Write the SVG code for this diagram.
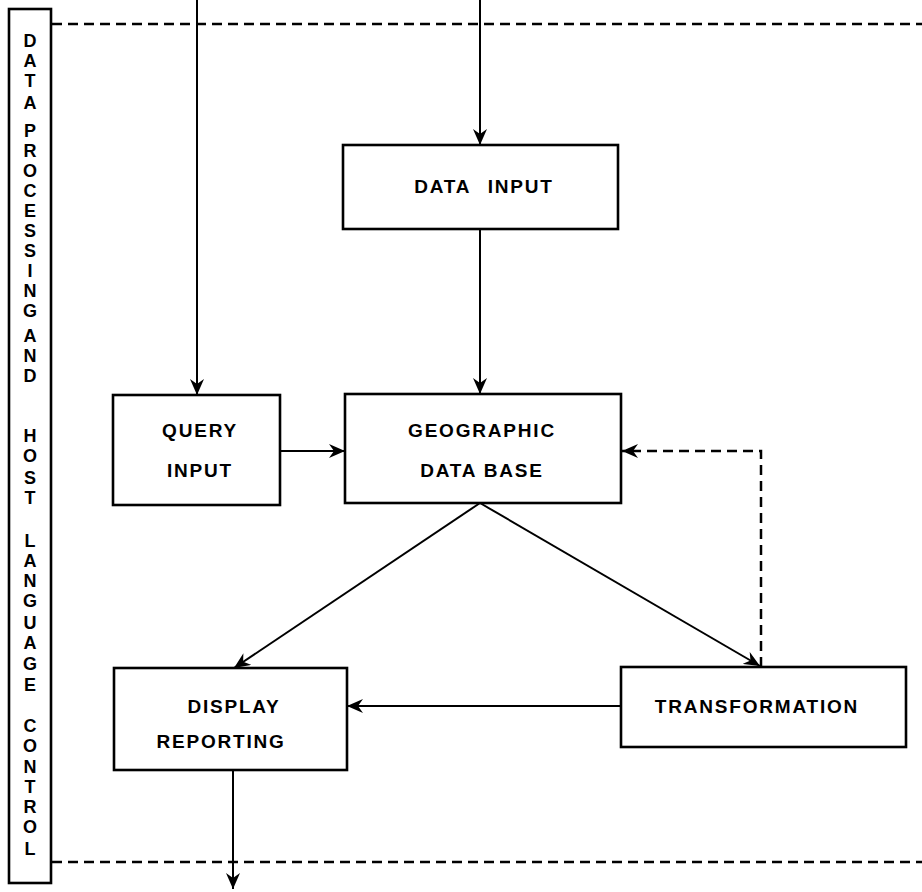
<svg xmlns="http://www.w3.org/2000/svg" width="922" height="892" viewBox="0 0 922 892">
<style>
.box{fill:#fff;stroke:#000;stroke-width:2.6}
.ln{fill:none;stroke:#000;stroke-width:2}
.dash{fill:none;stroke:#000;stroke-width:2.5;stroke-dasharray:10 6}
.t{font-family:"Liberation Sans",Arial,sans-serif;font-weight:bold;font-size:19px;letter-spacing:1.8px;fill:#000;text-anchor:middle}
.v{font-family:"Liberation Sans",Arial,sans-serif;font-weight:bold;font-size:18px;fill:#000;text-anchor:middle}
</style>
<defs>
<marker id="ah" markerUnits="userSpaceOnUse" markerWidth="18" markerHeight="14" refX="16" refY="7" orient="auto">
<path d="M0,0 L16,7 L0,14 L5,7 z" fill="#000"/>
</marker>
</defs>
<rect width="922" height="892" fill="#fff"/>

<g id="control">
<rect class="box" x="9" y="9" width="42" height="874"/>
<text class="v"><tspan x="30" y="47">D</tspan><tspan x="30" y="67">A</tspan><tspan x="30" y="87">T</tspan><tspan x="30" y="109">A</tspan><tspan x="30" y="137">P</tspan><tspan x="30" y="157">R</tspan><tspan x="30" y="177">O</tspan><tspan x="30" y="197">C</tspan><tspan x="30" y="217">E</tspan><tspan x="30" y="237">S</tspan><tspan x="30" y="257">S</tspan><tspan x="30" y="277">I</tspan><tspan x="30" y="297">N</tspan><tspan x="30" y="317">G</tspan><tspan x="30" y="342">A</tspan><tspan x="30" y="362">N</tspan><tspan x="30" y="382">D</tspan><tspan x="30" y="442">H</tspan><tspan x="30" y="462">O</tspan><tspan x="30" y="484">S</tspan><tspan x="30" y="504">T</tspan><tspan x="30" y="547">L</tspan><tspan x="30" y="567">A</tspan><tspan x="30" y="587">N</tspan><tspan x="30" y="607">G</tspan><tspan x="30" y="629">U</tspan><tspan x="30" y="649">A</tspan><tspan x="30" y="670">G</tspan><tspan x="30" y="691">E</tspan><tspan x="30" y="732">C</tspan><tspan x="30" y="752">O</tspan><tspan x="30" y="773">N</tspan><tspan x="30" y="793">T</tspan><tspan x="30" y="813">R</tspan><tspan x="30" y="833">O</tspan><tspan x="30" y="855">L</tspan></text>
</g>

<g id="boundaries">
<line class="dash" x1="52" y1="24" x2="922" y2="24"/>
<line class="dash" x1="52" y1="862" x2="922" y2="862"/>
</g>

<g id="connectors">
<line class="ln" x1="480" y1="0" x2="480" y2="145" marker-end="url(#ah)"/>
<line class="ln" x1="197" y1="0" x2="197" y2="395" marker-end="url(#ah)"/>
<line class="ln" x1="480" y1="229" x2="480" y2="394" marker-end="url(#ah)"/>
<line class="ln" x1="280" y1="451" x2="345" y2="451" marker-end="url(#ah)"/>
<line class="ln" x1="480" y1="503" x2="234" y2="668" marker-end="url(#ah)"/>
<line class="ln" x1="480" y1="503" x2="760" y2="666" marker-end="url(#ah)"/>
<line class="ln" x1="621" y1="706" x2="347" y2="706" marker-end="url(#ah)"/>
<line class="ln" x1="233" y1="770" x2="233" y2="889" marker-end="url(#ah)"/>
<path class="dash" d="M761,667 L761,451 L622,451" marker-end="url(#ah)"/>
</g>

<g id="data-input">
<rect class="box" x="343" y="145" width="275" height="84"/>
<text class="t" x="484" y="193" word-spacing="10">DATA INPUT</text>
</g>

<g id="query-input">
<rect class="box" x="113" y="395" width="167" height="110"/>
<text class="t" x="200" y="437">QUERY</text>
<text class="t" x="200" y="477">INPUT</text>
</g>

<g id="geographic-data-base">
<rect class="box" x="345" y="394" width="276" height="109"/>
<text class="t" x="482" y="437">GEOGRAPHIC</text>
<text class="t" x="482" y="477">DATA BASE</text>
</g>

<g id="display-reporting">
<rect class="box" x="114" y="668" width="233" height="102"/>
<text class="t" x="234" y="713">DISPLAY</text>
<text class="t" x="221" y="748">REPORTING</text>
</g>

<g id="transformation">
<rect class="box" x="621" y="667" width="285" height="80"/>
<text class="t" x="757" y="713">TRANSFORMATION</text>
</g>
</svg>
